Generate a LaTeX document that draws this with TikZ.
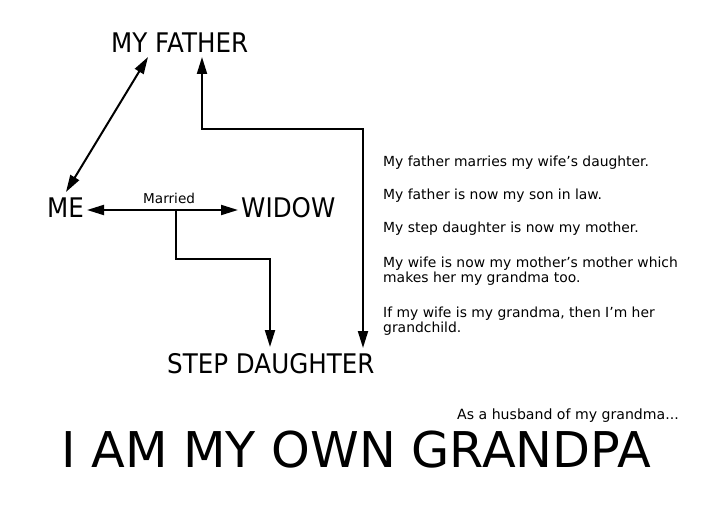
\documentclass[tikz,border=0pt]{standalone}
\usepackage{fontspec}
\setmainfont{DejaVu Sans}
\newfontfamily\labfont[FakeStretch=0.91]{DejaVu Sans}
\usetikzlibrary{arrows.meta,calc}
\begin{document}
\begin{tikzpicture}[x=1pt,y=-1pt,
  lab/.style={inner sep=0pt,anchor=base west,font=\labfont\fontsize{27}{27}\selectfont},
  note/.style={inner sep=0pt,anchor=base west,font=\fontsize{13.9}{15.5}\selectfont},
  conn/.style={line width=2pt},
  tipend/.style={-{Triangle[length=17pt,width=10pt]}},
  tipboth/.style={{Triangle[length=17pt,width=10pt]}-{Triangle[length=17pt,width=10pt]}}]
\fill[white] (0,0) rectangle (720,505);
\useasboundingbox (0,0) rectangle (720,505);

\node[lab] (father) at (111,53) {MY FATHER};
\node[lab] (me) at (47,218) {ME};
\node[lab] (widow) at (241,218) {WIDOW};
\node[lab] (step) at (167,373) {STEP DAUGHTER};
\node[inner sep=0pt,anchor=base west,font=\fontsize{13.6}{14}\selectfont] (married) at (143,204) {Married};

% connectors
\draw[conn,tipboth] ($(me.base west)+(19,-26)$) -- ($(father.base west)+(37,4)$);
\draw[conn,tipboth] ($(me.base west)+(40,-8)$) -- ($(widow.base west)+(-3,-8)$);
\coordinate (mj) at (176,210);
\draw[conn,tipend] (mj) -- ++(0,49) -| ($(step.base west)+(103,-26)$);
\draw[conn,tipboth] ($(father.base west)+(91,4)$) -- ++(0,72) -| ($(step.base west)+(196,-25)$);

% notes
\node[note] (n1) at (383,166.5) {My father marries my wife’s daughter.};
\node[note] (n2) at (383,199.5) {My father is now my son in law.};
\node[note] (n3) at (383,232.5) {My step daughter is now my mother.};
\node[note] (n4a) at (383,267.5) {My wife is now my mother’s mother which};
\node[note] (n4b) at (383,282.5) {makes her my grandma too.};
\node[note] (n5a) at (383,317) {If my wife is my grandma, then I’m her};
\node[note] (n5b) at (383,332) {grandchild.};

\node[inner sep=0pt,anchor=base west,font=\fontsize{14.1}{14}\selectfont] (sub) at (457,419) {As a husband of my grandma...};
\node[inner sep=0pt,anchor=base west,font=\fontsize{49.3}{49.3}\selectfont] (title) at (61,467) {I AM MY OWN GRANDPA};
\end{tikzpicture}
\end{document}
